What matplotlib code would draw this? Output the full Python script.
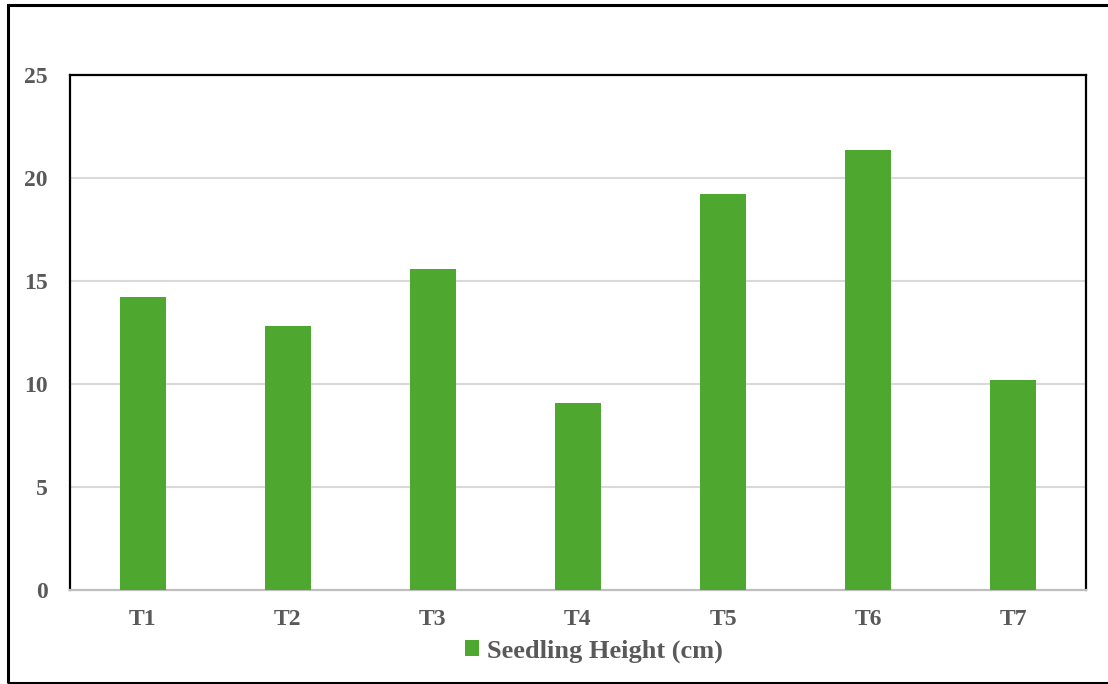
import matplotlib.pyplot as plt
from matplotlib.patches import Rectangle

treatments = ['T1', 'T2', 'T3', 'T4', 'T5', 'T6', 'T7']
seedling_height = [14.22, 12.82, 15.58, 9.08, 19.22, 21.36, 10.19]
y_ticks = [0, 5, 10, 15, 20, 25]

text_grey = '#595959'
bar_green = '#4EA72E'

plt.rcParams['font.family'] = ['Liberation Serif', 'DejaVu Serif']

W, H = 1108, 684
fig = plt.figure(figsize=(W / 100, H / 100), dpi=100)
ax = fig.add_axes([70 / W, 1 - 590 / H, 1016 / W, 515 / H])

x = range(len(treatments))
ax.bar(x, seedling_height, width=0.317, color=bar_green, zorder=3,
       label='Seedling Height (cm)')

ax.set_xlim(-0.5, len(treatments) - 0.5)
ax.set_ylim(0, 25)
ax.set_yticks(y_ticks)
ax.set_xticks(list(x))
ax.set_xticklabels(treatments)
ax.yaxis.grid(True, color='#d9d9d9', linewidth=1.5, zorder=0)
ax.tick_params(length=0, labelsize=17, labelcolor=text_grey)
ax.tick_params(axis='y', pad=16)
ax.tick_params(axis='x', pad=14)
for lab in ax.get_xticklabels() + ax.get_yticklabels():
    lab.set_fontweight('bold')

for side in ['left', 'top', 'right']:
    ax.spines[side].set_color('black')
    ax.spines[side].set_linewidth(1.6)
ax.spines['bottom'].set_color('#bfbfbf')
ax.spines['bottom'].set_linewidth(1.6)

# legend below the category labels
leg = fig.legend(*ax.get_legend_handles_labels(), loc='center',
                 bbox_to_anchor=(594 / W, 1 - 651 / H),
                 frameon=False, handlelength=0.55, handleheight=0.55,
                 handletextpad=0.3, prop={'size': 19, 'weight': 'bold'})
for t in leg.get_texts():
    t.set_color(text_grey)

# outer frame around the whole chart
fig.patches.append(Rectangle((8 / W, 1 / H), 1.2, 678 / H,
                             transform=fig.transFigure, fill=False,
                             edgecolor='black', linewidth=2.2))

fig.savefig('out.png', dpi=100)
